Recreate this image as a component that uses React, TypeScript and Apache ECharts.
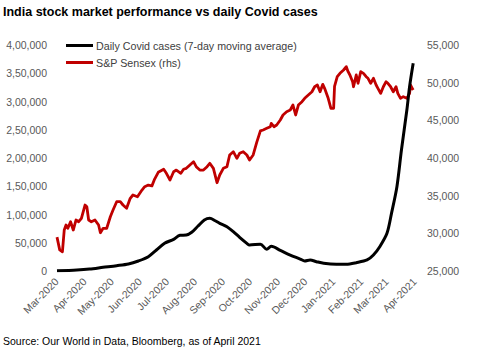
import React, { useEffect, useRef } from "react";
import * as echarts from "echarts";

// Daily new Covid cases in India, 7-day moving average (left axis)
const covidDates = [
  "2020-03-01", "2020-03-23", "2020-04-06", "2020-04-21", "2020-05-06", "2020-05-19",
  "2020-05-30", "2020-06-10", "2020-06-19", "2020-06-28", "2020-07-08", "2020-07-15",
  "2020-07-22", "2020-07-28", "2020-08-04", "2020-08-11", "2020-08-17", "2020-08-23",
  "2020-08-28", "2020-09-05", "2020-09-12", "2020-09-19", "2020-09-27", "2020-09-30",
  "2020-10-12", "2020-10-19", "2020-10-24", "2020-11-03", "2020-11-14", "2020-11-25",
  "2020-11-30", "2020-12-06", "2020-12-13", "2020-12-21", "2021-01-04", "2021-01-15",
  "2021-01-26", "2021-02-07", "2021-02-14", "2021-02-21", "2021-03-01", "2021-03-06",
  "2021-03-12", "2021-03-17", "2021-03-23", "2021-03-26", "2021-03-30",
];
const covidCases = [
  300, 1800, 3500, 6500, 9400, 12400,
  17700, 25300, 37200, 49000, 56100, 63200,
  63700, 68500, 79600, 90300, 93300, 89000,
  84400, 78400, 69600, 59600, 49000, 46000,
  47500, 38400, 43600, 36500, 28300, 21200,
  17700, 19500, 16500, 13600, 11900, 11900,
  14700, 19500, 28300, 43000, 66700, 102100,
  149200, 214200, 285000, 326200, 367600,
];

// S&P BSE Sensex close (right axis)
const sensexDates = [
  "2020-03-01", "2020-03-04", "2020-03-07", "2020-03-09", "2020-03-11", "2020-03-13",
  "2020-03-16", "2020-03-19", "2020-03-22", "2020-03-25", "2020-03-28", "2020-04-01",
  "2020-04-03", "2020-04-05", "2020-04-08", "2020-04-12", "2020-04-16", "2020-04-18",
  "2020-04-21", "2020-04-25", "2020-04-29", "2020-05-02", "2020-05-06", "2020-05-10",
  "2020-05-13", "2020-05-17", "2020-05-21", "2020-05-24", "2020-05-29", "2020-06-03",
  "2020-06-06", "2020-06-10", "2020-06-14", "2020-06-17", "2020-06-21", "2020-06-27",
  "2020-06-30", "2020-07-04", "2020-07-08", "2020-07-11", "2020-07-16", "2020-07-19",
  "2020-07-22", "2020-07-26", "2020-07-30", "2020-08-02", "2020-08-06", "2020-08-10",
  "2020-08-14", "2020-08-17", "2020-08-21", "2020-08-25", "2020-08-28", "2020-09-01",
  "2020-09-05", "2020-09-08", "2020-09-12", "2020-09-16", "2020-09-19", "2020-09-23",
  "2020-09-27", "2020-09-30", "2020-10-04", "2020-10-08", "2020-10-12", "2020-10-15",
  "2020-10-19", "2020-10-23", "2020-10-24", "2020-10-27", "2020-10-30", "2020-11-03",
  "2020-11-06", "2020-11-10", "2020-11-14", "2020-11-17", "2020-11-20", "2020-11-23",
  "2020-11-27", "2020-11-30", "2020-12-04", "2020-12-08", "2020-12-11", "2020-12-14",
  "2020-12-17", "2020-12-20", "2020-12-22", "2020-12-26", "2020-12-29", "2021-01-01",
  "2021-01-02", "2021-01-05", "2021-01-08", "2021-01-12", "2021-01-15", "2021-01-17",
  "2021-01-19", "2021-01-22", "2021-01-23", "2021-01-26", "2021-01-28", "2021-01-31",
  "2021-02-03", "2021-02-06", "2021-02-08", "2021-02-11", "2021-02-14", "2021-02-17",
  "2021-02-19", "2021-02-22", "2021-02-25", "2021-02-28", "2021-03-02", "2021-03-05",
  "2021-03-08", "2021-03-11", "2021-03-13", "2021-03-16", "2021-03-19", "2021-03-23",
  "2021-03-26", "2021-03-27", "2021-03-29", "2021-03-30",
];
const sensexValues = [
  29500, 27800, 27560, 30440, 31100, 30670,
  31540, 30440, 31770, 31540, 32000, 33760,
  33530, 31770, 31540, 31770, 31100, 30080,
  30670, 30670, 32200, 33100, 34200, 34200,
  33760, 33320, 34650, 35090, 34860, 35750,
  36190, 36410, 36300, 37200, 38100, 38500,
  37970, 37080, 38180, 38400, 37970, 38500,
  38630, 39070, 39510, 38850, 38400, 38400,
  38850, 39300, 38630, 36720, 37740, 38630,
  38850, 40400, 40840, 39960, 40620, 40840,
  40400, 39730, 40400, 42100, 43600, 43720,
  43940, 44150, 44600, 44150, 44380, 45040,
  45710, 46140, 46370, 47030, 45710, 47030,
  47470, 47920, 48360, 48800, 49460, 49690,
  48800, 49780, 49250, 47920, 46600, 46600,
  49500, 50790, 51240, 51680, 52120, 51460,
  51020, 50130, 49460, 51020, 49920, 51460,
  51240, 50790, 50580, 49920, 50580, 49690,
  49250, 48580, 49460, 50130, 49920, 49460,
  48800, 49460, 48580, 47920, 48140, 47920,
  48580, 49690, 49250, 49030,
];

// First day of each month shown on the x axis
const monthTicks = [
  "2020-03-01", "2020-04-01", "2020-05-01", "2020-06-01", "2020-07-01", "2020-08-01",
  "2020-09-01", "2020-10-01", "2020-11-01", "2020-12-01", "2021-01-01", "2021-02-01",
  "2021-03-01", "2021-04-01",
];
const monthNames = ["Jan", "Feb", "Mar", "Apr", "May", "Jun", "Jul", "Aug", "Sep", "Oct", "Nov", "Dec"];

const FONT = "'Liberation Sans', Arial, sans-serif";
const AXIS_GREY = "#595959";
const DAY_MS = 86400000;
const ORIGIN = Date.UTC(2020, 2, 1);

// x positions are whole days counted from 1 March 2020
const toDay = (s: string) => {
  const [y, m, d] = s.split("-").map(Number);
  return Math.round((Date.UTC(y, m - 1, d) - ORIGIN) / DAY_MS);
};
const dayLabel = (day: number) => {
  const d = new Date(ORIGIN + day * DAY_MS);
  return monthNames[d.getUTCMonth()] + "-" + d.getUTCFullYear();
};

// Indian digit grouping: 4,00,000
const indianFormat = (v: number) => {
  const s = String(Math.round(v));
  if (s.length <= 3) return s;
  const last3 = s.slice(-3);
  const rest = s.slice(0, -3).replace(/\B(?=(\d{2})+(?!\d))/g, ",");
  return rest + "," + last3;
};

export default function App() {
  const ref = useRef<HTMLDivElement>(null);

  useEffect(() => {
    if (!ref.current) return;
    const chart = echarts.init(ref.current, null, { renderer: "svg" });
    const tickDays = monthTicks.map(toDay);

    chart.setOption({
      animation: false,
      backgroundColor: "#ffffff",
      title: {
        text: "India stock market performance vs daily Covid cases",
        left: 3,
        top: 5,
        padding: 0,
        textStyle: { fontFamily: FONT, fontSize: 12.5, fontWeight: "bold", color: "#000000" },
      },
      legend: {
        orient: "vertical",
        left: 61,
        top: 35,
        icon: "rect",
        itemWidth: 27,
        itemHeight: 3,
        itemGap: 6,
        textStyle: { fontFamily: FONT, fontSize: 10.7, color: "#404040", padding: [0, 0, 0, -2] },
        data: ["Daily Covid cases (7-day moving average)", "S&P Sensex (rhs)"],
      },
      grid: { left: 57, right: 64, top: 45, bottom: 89 },
      xAxis: {
        type: "value",
        min: tickDays[0],
        max: tickDays[tickDays.length - 1],
        axisLine: { show: false },
        axisTick: { show: false },
        splitLine: { show: false },
        axisLabel: {
          customValues: tickDays,
          rotate: 45,
          margin: 9,
          fontFamily: FONT,
          fontSize: 10.5,
          color: AXIS_GREY,
          formatter: (v: number) => dayLabel(v),
        },
      },
      yAxis: [
        {
          type: "value",
          min: 0,
          max: 400000,
          interval: 50000,
          axisLine: { show: false },
          axisTick: { show: false },
          splitLine: { show: false },
          axisLabel: {
            margin: 10,
            fontFamily: FONT,
            fontSize: 10.5,
            color: AXIS_GREY,
            formatter: indianFormat,
          },
        },
        {
          type: "value",
          min: 25000,
          max: 55000,
          interval: 5000,
          position: "right",
          axisLine: { show: false },
          axisTick: { show: false },
          splitLine: { show: false },
          axisLabel: {
            margin: 12,
            fontFamily: FONT,
            fontSize: 10.5,
            color: AXIS_GREY,
            formatter: (v: number) => v.toLocaleString("en-US"),
          },
        },
      ],
      series: [
        {
          name: "Daily Covid cases (7-day moving average)",
          type: "line",
          yAxisIndex: 0,
          data: covidDates.map((d, i) => [toDay(d), covidCases[i]]),
          showSymbol: false,
          smooth: 0.3,
          lineStyle: { color: "#000000", width: 3 },
          itemStyle: { color: "#000000" },
          z: 3,
        },
        {
          name: "S&P Sensex (rhs)",
          type: "line",
          yAxisIndex: 1,
          data: sensexDates.map((d, i) => [toDay(d), sensexValues[i]]),
          showSymbol: false,
          lineStyle: { color: "#C00000", width: 2.8, join: "round" },
          itemStyle: { color: "#C00000" },
          z: 2,
        },
      ],
      graphic: [
        {
          type: "text",
          left: 3,
          top: 335,
          style: {
            text: "Source: Our World in Data, Bloomberg, as of April 2021",
            font: `10.5px ${FONT}`,
            fill: "#000000",
          },
        },
      ],
    });

    return () => chart.dispose();
  }, []);

  return (
    <div
      ref={ref}
      style={{ position: "absolute", left: 0, top: 0, width: 479, height: 360 }}
    />
  );
}
